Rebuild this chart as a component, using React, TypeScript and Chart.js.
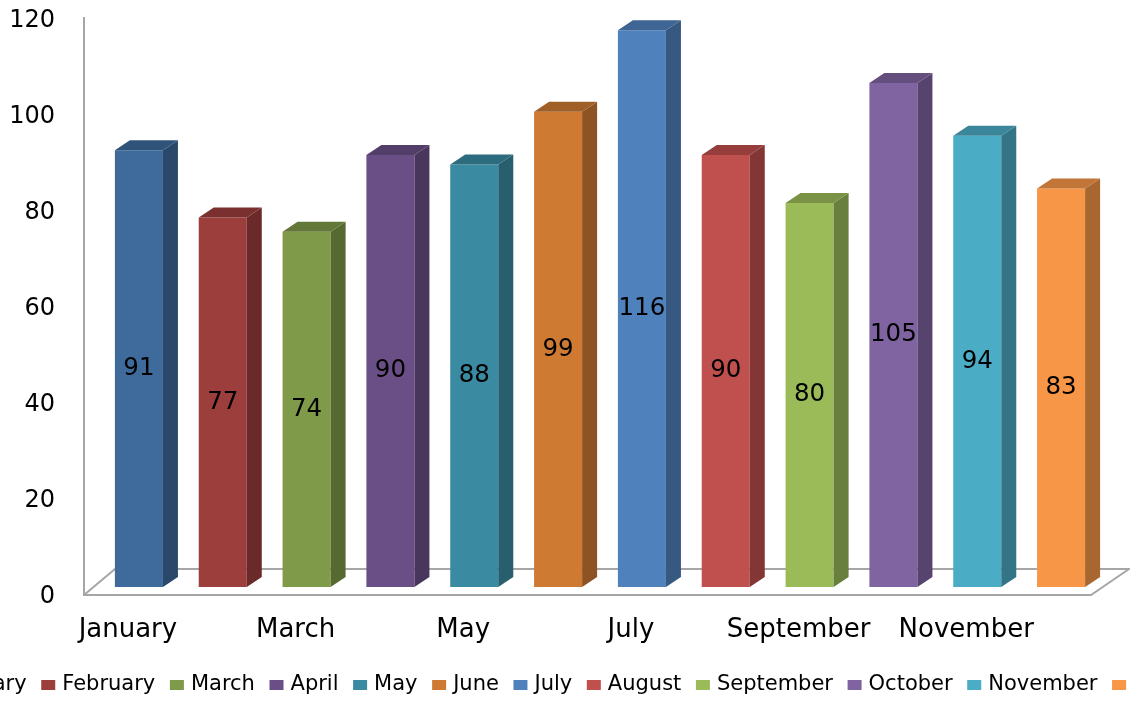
import React, { useEffect, useRef } from 'react';
import { Chart, registerables } from 'chart.js';

Chart.register(...registerables);

const months = ['January', 'February', 'March', 'April', 'May', 'June', 'July', 'August', 'September', 'October', 'November', 'December'];
const values = [91, 77, 74, 90, 88, 99, 116, 90, 80, 105, 94, 83];
const frontColors = ['#3E6A9C', '#9C3E3C', '#7F9A48', '#6A4F87', '#3A8BA2', '#CF7A33', '#4F81BD', '#C0504D', '#9BBB59', '#8064A2', '#4BACC6', '#F79646'];
const yMin = 0;
const yMax = 120;
const yStep = 20;

const FONT = '"DejaVu Sans", sans-serif';

function shade(hex: string, f: number): string {
  const n = parseInt(hex.slice(1), 16);
  const r = Math.round(((n >> 16) & 255) * f);
  const g = Math.round(((n >> 8) & 255) * f);
  const b = Math.round((n & 255) * f);
  return `rgb(${r},${g},${b})`;
}

const DX = 15;
const DY = -10;

const depthPlugin = {
  id: 'depth3d',
  beforeDatasetsDraw(chart: any) {
    const { ctx, chartArea } = chart;
    const y = chart.scales.y;
    const y0 = y.getPixelForValue(yMin);
    const yTop = y.getPixelForValue(yMax);
    const fx0 = chartArea.left - 13;
    const fy = y0 + 8;
    const bx0 = chartArea.left + 18;
    const by = y0 - 18;
    const fx1 = chartArea.right - 12;
    const bx1 = chartArea.right + 26;
    ctx.save();
    ctx.strokeStyle = '#a6a6a6';
    ctx.lineWidth = 2;
    ctx.beginPath();
    ctx.moveTo(fx0, yTop + 6);
    ctx.lineTo(fx0, fy);
    ctx.lineTo(fx1, fy);
    ctx.lineTo(bx1, by);
    ctx.lineTo(bx0, by);
    ctx.lineTo(fx0, fy);
    ctx.stroke();
    ctx.restore();
  },
  afterDatasetsDraw(chart: any) {
    const { ctx } = chart;
    const meta = chart.getDatasetMeta(0);
    ctx.save();
    meta.data.forEach((bar: any, i: number) => {
      const { x, y, base, width } = bar.getProps(['x', 'y', 'base', 'width'], true);
      const l = x - width / 2;
      const r = x + width / 2;
      const c = frontColors[i];
      // side face
      ctx.fillStyle = shade(c, 0.68);
      ctx.beginPath();
      ctx.moveTo(r, y);
      ctx.lineTo(r + DX, y + DY);
      ctx.lineTo(r + DX, base + DY);
      ctx.lineTo(r, base);
      ctx.closePath();
      ctx.fill();
      // top face
      ctx.fillStyle = shade(c, 0.78);
      ctx.beginPath();
      ctx.moveTo(l, y);
      ctx.lineTo(l + DX, y + DY);
      ctx.lineTo(r + DX, y + DY);
      ctx.lineTo(r, y);
      ctx.closePath();
      ctx.fill();
      // value label
      ctx.fillStyle = '#000';
      ctx.font = `24.5px ${FONT}`;
      ctx.textAlign = 'center';
      ctx.textBaseline = 'middle';
      ctx.fillText(String(values[i]), x, (y + base) / 2);
    });
    ctx.restore();
  },
};

const LEGEND_CENTER_X = 584;
const LEGEND_Y = 685;

const legendPlugin = {
  id: 'clippedLegend',
  afterDraw(chart: any) {
    const { ctx } = chart;
    ctx.save();
    ctx.font = `21px ${FONT}`;
    const boxW = 14;
    const boxH = 10;
    const textGap = 7;
    const itemGap = 14.6;
    const widths = months.map((m) => boxW + textGap + ctx.measureText(m).width);
    const total = widths.reduce((a, b) => a + b, 0) + itemGap * (months.length - 1);
    let x = LEGEND_CENTER_X - total / 2;
    ctx.textAlign = 'left';
    ctx.textBaseline = 'middle';
    months.forEach((m, i) => {
      ctx.fillStyle = frontColors[i];
      ctx.fillRect(x, LEGEND_Y - boxH / 2, boxW, boxH);
      ctx.fillStyle = '#000';
      ctx.fillText(m, x + boxW + textGap, LEGEND_Y);
      x += widths[i] + itemGap;
    });
    ctx.restore();
  },
};

export default function App() {
  const ref = useRef<HTMLCanvasElement | null>(null);

  useEffect(() => {
    if (!ref.current) return;
    const chart = new Chart(ref.current, {
      type: 'bar',
      data: {
        labels: months,
        datasets: [
          {
            label: 'Values',
            data: values,
            backgroundColor: frontColors,
            borderWidth: 0,
            barPercentage: 0.573,
            categoryPercentage: 1,
          },
        ],
      },
      options: {
        animation: false,
        responsive: true,
        maintainAspectRatio: false,
        layout: { padding: { left: 0, right: 27, top: 11, bottom: 0 } },
        plugins: {
          legend: { display: false },
          tooltip: { enabled: false },
        },
        scales: {
          x: {
            grid: { display: false },
            border: { display: false },
            ticks: {
              autoSkip: false,
              maxRotation: 0,
              minRotation: 0,
              labelOffset: -11,
              padding: 20,
              color: '#000',
              font: { family: FONT, size: 26 },
              callback: (_v: any, i: number) => (i % 2 === 0 ? months[i] : ''),
            },
            afterFit: (scale: any) => {
              scale.height = 115;
              scale.paddingLeft = 0;
              scale.paddingRight = 0;
            },
          },
          y: {
            min: yMin,
            max: yMax,
            grid: { display: false },
            border: { display: false },
            ticks: {
              stepSize: yStep,
              padding: 34,
              labelOffset: 10,
              color: '#000',
              font: { family: FONT, size: 24 },
            },
            afterFit: (scale: any) => {
              scale.width = 97;
              scale.paddingTop = 0;
              scale.paddingBottom = 0;
            },
          },
        },
      },
      plugins: [depthPlugin, legendPlugin],
    });
    return () => chart.destroy();
  }, []);

  return (
    <div style={{ position: 'absolute', left: 0, top: 0, width: 1130, height: 702, overflow: 'hidden', background: '#fff' }}>
      <canvas ref={ref} />
    </div>
  );
}
